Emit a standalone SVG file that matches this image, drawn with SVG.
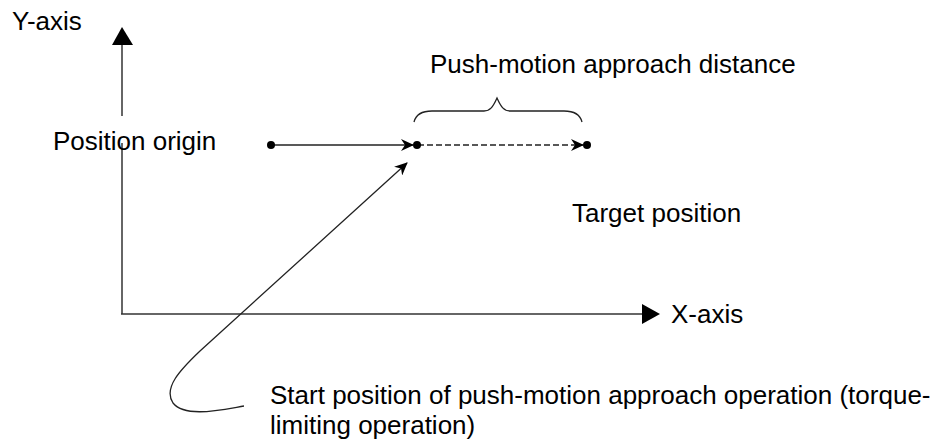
<svg xmlns="http://www.w3.org/2000/svg" width="948" height="443" viewBox="0 0 948 443">
<style>
text{font-family:"Liberation Sans",Arial,sans-serif;font-size:26px;fill:#000}
.ln{stroke:#222;stroke-width:1.3;fill:none}
.ax{stroke:#333;stroke-width:1.5;fill:none}
.dot{fill:#000}
</style>
<defs>
<marker id="barb" viewBox="0 0 13 12" refX="12" refY="6" markerWidth="13" markerHeight="12" markerUnits="userSpaceOnUse" orient="auto">
<path d="M0,0 L13,6 L0,12 L4,6 Z" fill="#000"/>
</marker>
</defs>
<rect width="948" height="443" fill="#fff"/>
<g id="axes">
<line class="ax" x1="122" y1="44" x2="122" y2="116"/>
<line class="ax" x1="122" y1="143" x2="122" y2="314"/>
<polygon points="122,27 112,45 133,45" fill="#000"/>
<line class="ax" x1="121" y1="314" x2="643" y2="314"/>
<polygon points="660,314 642,304 642,324" fill="#000"/>
</g>
<g id="connectors">
<line class="ln" x1="271" y1="145" x2="413" y2="145" marker-end="url(#barb)"/>
<line class="ln" x1="418" y1="145" x2="583" y2="145" stroke-dasharray="6 3" marker-end="url(#barb)"/>
<path class="ln" d="M244,406 C220,410 185,418 173,403 C163,388 180,370 200,351 L407,163" marker-end="url(#barb)"/>
<path class="ln" d="M414,122 C416,114 422,111 432,111 L484,111 C490,111 493,107 497,98 C501,107 504,111 510,111 L564,111 C574,111 580,114 582,122"/>
</g>
<g id="points">
<circle class="dot" cx="271" cy="145" r="4"/>
<circle class="dot" cx="417" cy="145" r="4"/>
<circle class="dot" cx="587" cy="145" r="4"/>
</g>
<g id="labels">
<text x="12" y="30">Y-axis</text>
<text x="671" y="323">X-axis</text>
<text x="53" y="150">Position origin</text>
<text x="430" y="73">Push-motion approach distance</text>
<text x="572" y="222">Target position</text>
<text x="270" y="404">Start position of push-motion approach operation (torque-</text>
<text x="270" y="434">limiting operation)</text>
</g>
</svg>
